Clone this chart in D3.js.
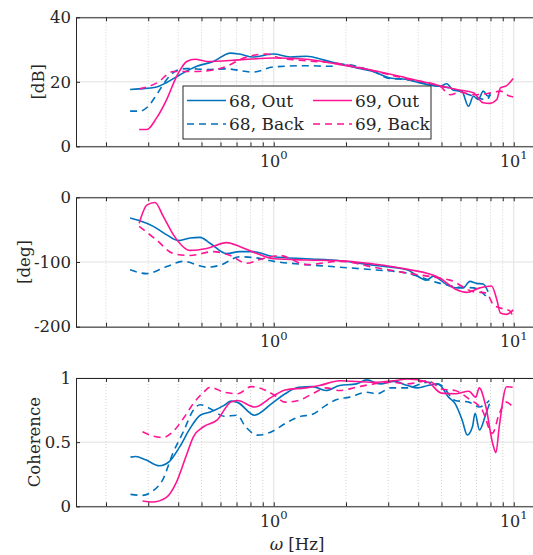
<!DOCTYPE html>
<html>
<head>
<meta charset="utf-8">
<script src="https://cdn.jsdelivr.net/npm/d3@7"></script>
<style>
body { margin: 0; background: #fff; overflow: hidden; }
text { font-family: "DejaVu Serif", serif; fill: #262626; }
</style>
</head>
<body>
<script>
// ---- data: [frequency Hz, value] ----
const mag68Out = [[0.252,17.6],[0.275,17.8],[0.325,18.4],[0.358,19.8],[0.407,22.2],[0.478,24.8],[0.56,26.3],[0.66,28.9],[0.72,28.6],[0.82,27.7],[1.0,28.6],[1.17,27.7],[1.37,27.9],[1.61,26.8],[1.89,25.5],[2.22,24.3],[2.6,23.2],[3.05,21.2],[3.58,20.7],[4.2,19.4],[4.93,18.6],[5.26,19.4],[5.6,17.4],[6.07,17.1],[6.48,12.4],[6.79,15.5],[7.12,14.5],[7.46,17.1],[7.82,15.5],[8.0,16.6]];
const mag68Back = [[0.252,10.9],[0.275,10.9],[0.3,12.4],[0.325,16.0],[0.358,20.7],[0.394,23.5],[0.434,24.1],[0.526,23.8],[0.637,24.0],[0.82,23.0],[1.0,24.6],[1.37,25.0],[1.72,24.8],[1.89,25.5],[2.6,23.2],[3.05,21.0],[3.58,20.7],[4.2,19.6],[4.93,18.6],[5.43,18.1],[5.79,17.4],[6.36,16.3],[6.79,15.5],[7.7,14.5],[8.0,16.0]];
const mag69Out = [[0.275,5.2],[0.296,5.2],[0.325,8.8],[0.358,14.5],[0.394,21.7],[0.434,26.3],[0.47,27.0],[0.526,26.3],[0.72,26.8],[1.0,27.4],[1.37,27.0],[1.89,25.3],[2.6,23.5],[3.58,21.2],[4.93,18.8],[5.79,17.6],[6.79,16.6],[7.46,13.5],[7.94,13.3],[8.5,14.5],[8.8,18.1],[9.34,18.8],[9.95,21.0]];
const mag69Back = [[0.275,17.8],[0.325,19.6],[0.382,23.2],[0.448,23.2],[0.526,23.4],[0.637,24.8],[0.72,26.8],[0.85,28.4],[0.935,28.6],[1.06,27.4],[1.37,26.5],[1.89,25.6],[2.6,23.4],[3.58,20.9],[4.93,18.6],[5.43,16.0],[5.97,16.8],[6.79,16.0],[7.7,16.3],[8.8,17.1],[9.66,15.5],[9.95,15.3]];

const ph68Out = [[0.252,-32],[0.275,-36],[0.315,-45],[0.358,-58],[0.4,-67],[0.448,-63],[0.493,-62],[0.543,-71],[0.637,-87],[0.72,-84],[0.82,-84],[1.0,-92],[1.37,-95],[1.89,-98],[2.6,-105],[3.58,-112],[4.34,-128],[4.62,-122],[5.26,-135],[5.79,-140],[6.16,-140],[6.56,-130],[7.0,-133],[7.46,-134],[7.82,-146]];
const ph68Back = [[0.252,-112],[0.296,-118],[0.358,-107],[0.42,-99],[0.526,-108],[0.597,-105],[0.72,-92],[0.82,-93],[1.0,-99],[1.37,-104],[1.89,-108],[2.6,-112],[3.58,-117],[4.93,-133],[5.97,-139],[6.79,-140],[7.82,-156]];
const ph69Out = [[0.275,-40],[0.296,-12],[0.32,-8],[0.347,-30],[0.382,-58],[0.448,-82],[0.526,-79],[0.637,-70],[0.72,-76],[0.85,-87],[1.0,-95],[1.37,-97],[1.89,-98],[2.6,-103],[3.58,-111],[4.93,-125],[5.79,-143],[6.36,-147],[7.23,-140],[8.08,-137],[8.5,-158],[8.8,-179],[9.34,-181],[9.95,-174]];
const ph69Back = [[0.275,-45],[0.325,-66],[0.382,-87],[0.448,-90],[0.56,-84],[0.66,-90],[0.77,-102],[0.877,-96],[1.06,-90],[1.37,-104],[1.89,-99],[2.6,-108],[3.58,-117],[4.93,-125],[5.43,-128],[6.79,-146],[7.7,-148],[8.22,-166],[8.8,-171],[9.66,-176],[9.95,-187]];

const coh68Out = [[0.253,0.383],[0.266,0.388],[0.293,0.362],[0.334,0.316],[0.368,0.35],[0.406,0.465],[0.448,0.607],[0.494,0.71],[0.544,0.735],[0.621,0.787],[0.662,0.82],[0.707,0.81],[0.832,0.71],[0.98,0.8],[1.116,0.877],[1.27,0.928],[1.45,0.933],[1.65,0.902],[1.88,0.941],[2.21,0.954],[2.44,0.985],[2.78,0.954],[3.17,0.974],[3.61,0.941],[3.98,0.923],[4.39,0.941],[4.84,0.954],[5.35,0.851],[5.7,0.8],[6.1,0.671],[6.4,0.556],[6.73,0.62],[6.9,0.725],[7.2,0.595],[7.66,0.722],[7.93,0.8]];
const coh68Back = [[0.253,0.093],[0.284,0.085],[0.313,0.118],[0.345,0.208],[0.38,0.414],[0.42,0.581],[0.462,0.748],[0.494,0.792],[0.544,0.761],[0.621,0.702],[0.707,0.71],[0.755,0.632],[0.86,0.555],[0.98,0.581],[1.116,0.645],[1.27,0.697],[1.45,0.717],[1.65,0.787],[1.82,0.83],[2.07,0.851],[2.44,0.889],[2.7,0.877],[3.07,0.923],[3.61,0.923],[4.39,0.967],[5.0,0.941],[5.7,0.825],[6.5,0.812],[7.18,0.774],[7.91,0.825]];
const coh69Out = [[0.284,0.041],[0.313,0.033],[0.356,0.067],[0.392,0.183],[0.433,0.4],[0.462,0.54],[0.51,0.62],[0.58,0.671],[0.662,0.812],[0.707,0.825],[0.832,0.774],[0.98,0.851],[1.116,0.907],[1.36,0.923],[1.55,0.941],[1.88,0.979],[2.61,0.967],[3.17,0.979],[3.61,0.992],[4.39,0.967],[5.0,0.882],[5.7,0.877],[6.5,0.897],[6.95,0.851],[7.18,0.923],[7.66,0.774],[8.17,0.49],[8.43,0.418],[8.7,0.62],[9.34,0.932],[9.9,0.928]];
const coh69Back = [[0.284,0.581],[0.313,0.548],[0.345,0.537],[0.38,0.581],[0.42,0.684],[0.462,0.8],[0.51,0.889],[0.544,0.928],[0.621,0.889],[0.707,0.877],[0.806,0.933],[0.918,0.907],[1.01,0.864],[1.116,0.812],[1.27,0.825],[1.45,0.877],[1.65,0.923],[1.88,0.902],[2.21,0.928],[2.61,0.954],[3.07,0.967],[3.61,0.954],[4.39,0.979],[5.0,0.915],[5.7,0.902],[6.5,0.838],[7.4,0.748],[8.15,0.569],[8.7,0.722],[9.3,0.812],[9.9,0.774]];

const legendLabels = ["68, Out", "69, Out", "68, Back", "69, Back"];
const magTicks = [0, 20, 40];
const phaseTicks = [-200, -100, 0];
const cohTicks = [0, 0.5, 1];
const xMajor = [1, 10];
const xMinor = [0.2,0.3,0.4,0.5,0.6,0.7,0.8,0.9,2,3,4,5,6,7,8,9];

const blue = "#0072bd", pink = "#ff1493";
const W = 533, H = 555;
const FONT = "'DejaVu Serif', serif";

const svg = d3.select("body").append("svg")
    .attr("width", W)
    .attr("height", H);

const x = d3.scaleLog().domain([0.15, 15]).range([76, 556]);

const line = d3.line()
    .x(d => x(d[0]))
    .y(d => d[1])
    .curve(d3.curveMonotoneX);

const panels = [
  {top: 17.3, bottom: 146.3, domain: [0, 40], ticks: magTicks, label: "[dB]", lx: 44,
   series: [[mag68Out, blue, null], [mag68Back, blue, "7,5"], [mag69Out, pink, null], [mag69Back, pink, "7,5"]]},
  {top: 197.3, bottom: 326.7, domain: [-200, 0], ticks: phaseTicks, label: "[deg]", lx: 30,
   series: [[ph68Out, blue, null], [ph68Back, blue, "7,5"], [ph69Out, pink, null], [ph69Back, pink, "7,5"]]},
  {top: 378, bottom: 506.3, domain: [0, 1], ticks: cohTicks, label: "Coherence", lx: 39.5,
   series: [[coh68Out, blue, null], [coh68Back, blue, "7,5"], [coh69Out, pink, null], [coh69Back, pink, "7,5"]]}
];

panels.forEach(function(p) {
  const y = d3.scaleLinear().domain(p.domain).range([p.bottom, p.top]);
  const g = svg.append("g");

  // grid
  g.selectAll(".minor").data(xMinor).enter().append("line")
    .attr("x1", d => x(d)).attr("x2", d => x(d))
    .attr("y1", p.top).attr("y2", p.bottom)
    .attr("stroke", "#c8c8c8").attr("stroke-width", 0.8)
    .attr("stroke-dasharray", "1,2");
  g.selectAll(".major").data(xMajor).enter().append("line")
    .attr("x1", d => x(d)).attr("x2", d => x(d))
    .attr("y1", p.top).attr("y2", p.bottom)
    .attr("stroke", "#e1e1e1").attr("stroke-width", 1);
  g.selectAll(".hgrid").data(p.ticks).enter().append("line")
    .attr("x1", 76).attr("x2", W)
    .attr("y1", d => y(d)).attr("y2", d => y(d))
    .attr("stroke", "#e1e1e1").attr("stroke-width", 1);

  // curves
  p.series.forEach(function(s) {
    g.append("path")
      .datum(s[0].map(d => [d[0], y(d[1])]))
      .attr("d", line)
      .attr("fill", "none")
      .attr("stroke", s[1])
      .attr("stroke-width", 1.6)
      .attr("stroke-dasharray", s[2]);
  });

  // axes (ticks inside)
  const allX = xMinor.concat(xMajor);
  const bx = g.append("g").attr("transform", "translate(0," + p.bottom + ")")
    .call(d3.axisBottom(x).tickValues(allX).tickSize(-4).tickSizeOuter(0).tickFormat(""));
  const tx = g.append("g").attr("transform", "translate(0," + p.top + ")")
    .call(d3.axisTop(x).tickValues(allX).tickSize(-4).tickSizeOuter(0).tickFormat(""));
  const ly = g.append("g").attr("transform", "translate(76,0)")
    .call(d3.axisLeft(y).tickValues(p.ticks).tickSize(-4).tickSizeOuter(0).tickPadding(5));
  [bx, tx, ly].forEach(a => {
    a.attr("font-family", FONT);
    a.select(".domain").attr("stroke", "#262626").attr("stroke-width", 1);
    a.selectAll(".tick line").attr("stroke", "#262626");
  });
  ly.selectAll("text")
    .style("font-family", FONT)
    .style("font-size", "16.5px").attr("fill", "#262626")
    .text(d => String(d));

  // decade labels 10^n
  xMajor.forEach(function(v) {
    const t = g.append("text")
      .attr("x", x(v)).attr("y", p.bottom + 20.5)
      .attr("text-anchor", "middle")
      .style("font-size", "16px");
    t.append("tspan").text("10");
    t.append("tspan").attr("dy", -7.5).style("font-size", "11.5px").text(String(Math.round(Math.log10(v))));
  });

  // y label
  g.append("text")
    .attr("transform", "translate(" + p.lx + "," + ((p.top + p.bottom) / 2) + ") rotate(-90)")
    .attr("text-anchor", "middle")
    .style("font-size", "16.5px")
    .text(p.label);
});

// x label
const xl = svg.append("text")
  .attr("x", 297).attr("y", 550)
  .attr("text-anchor", "middle")
  .style("font-size", "16.5px");
xl.append("tspan").style("font-style", "italic").text("\u03c9");
xl.append("tspan").text(" [Hz]");

// legend
const lg = svg.append("g");
lg.append("rect")
  .attr("x", 183).attr("y", 86).attr("width", 248).attr("height", 53)
  .attr("fill", "#fff").attr("stroke", "#262626").attr("stroke-width", 1);
const legendItems = [
  {label: legendLabels[0], color: blue, dash: null, x: 187, y: 100.5},
  {label: legendLabels[1], color: pink, dash: null, x: 313, y: 100.5},
  {label: legendLabels[2], color: blue, dash: "7,5", x: 187, y: 124},
  {label: legendLabels[3], color: pink, dash: "7,5", x: 313, y: 124}
];
legendItems.forEach(function(d) {
  lg.append("line")
    .attr("x1", d.x).attr("x2", d.x + 39)
    .attr("y1", d.y).attr("y2", d.y)
    .attr("stroke", d.color).attr("stroke-width", 1.6)
    .attr("stroke-dasharray", d.dash);
  lg.append("text")
    .attr("x", d.x + 42).attr("y", d.y + 6)
    .style("font-size", "17px")
    .text(d.label);
});
</script>
</body>
</html>
